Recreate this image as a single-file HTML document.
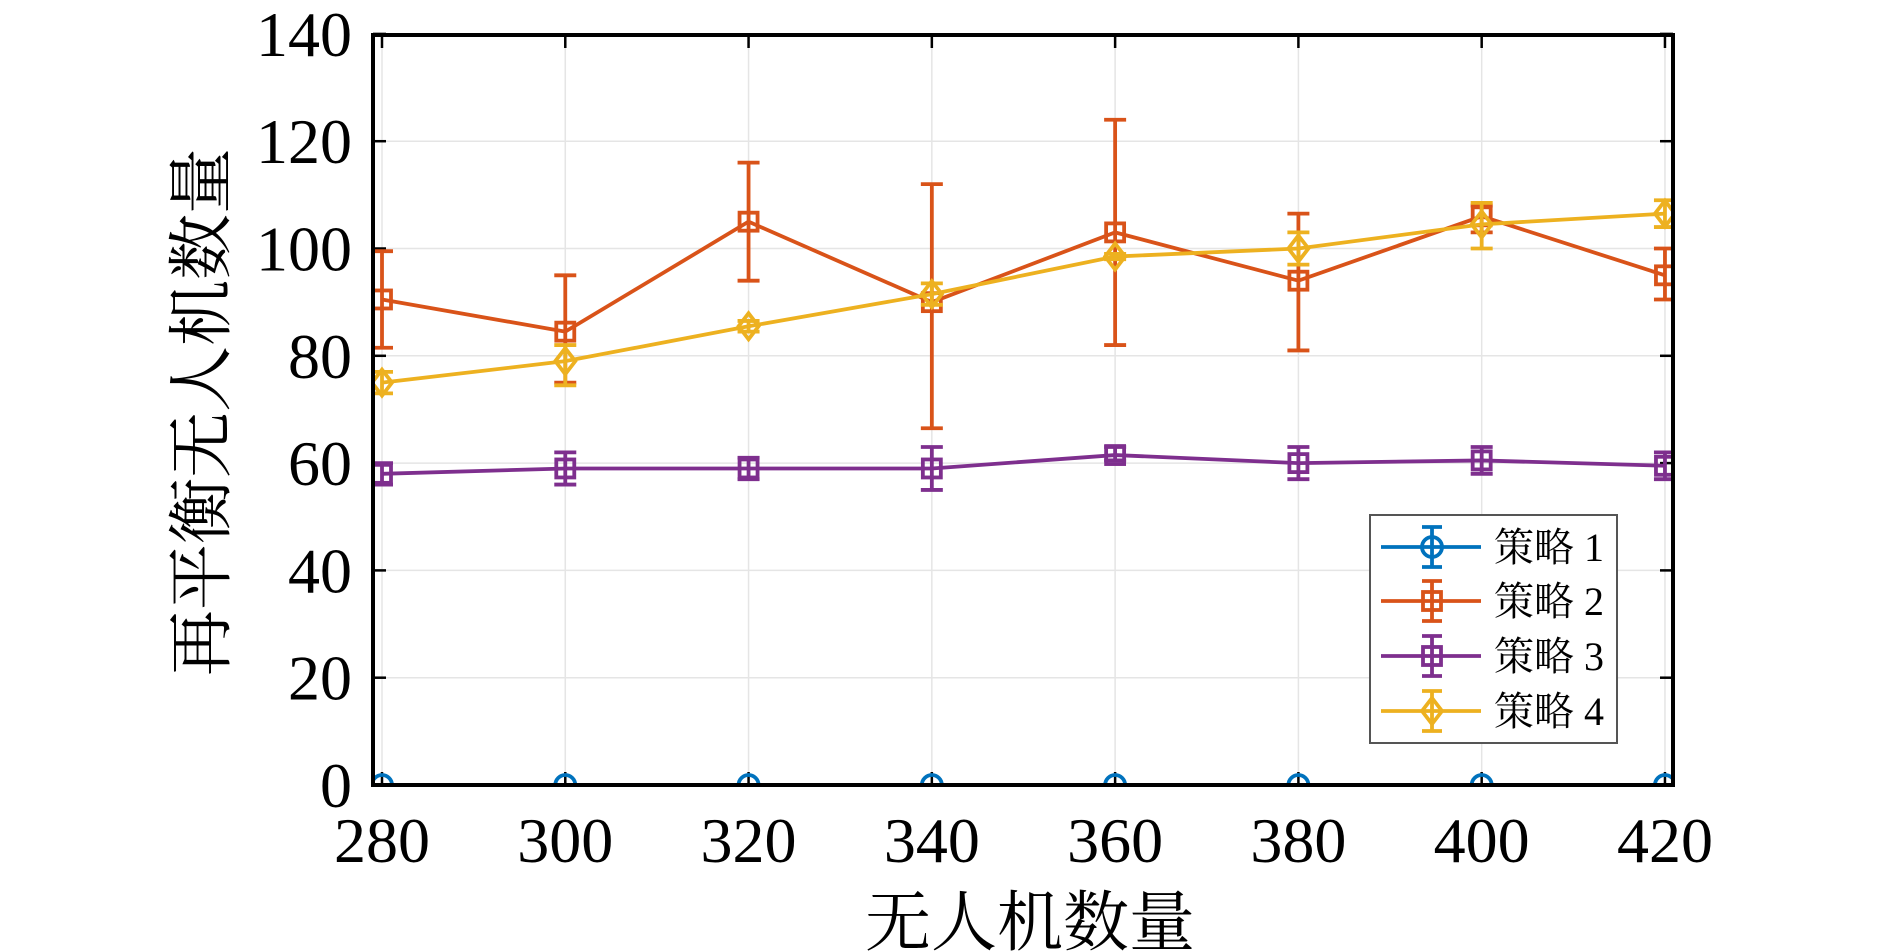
<!DOCTYPE html>
<html><head><meta charset="utf-8"><style>
html,body{margin:0;padding:0;background:#fff;}
svg{display:block;}
text{font-family:"Liberation Serif","Noto Serif CJK SC",serif;fill:#000;}
</style></head><body>
<svg id="s" width="1890" height="951" viewBox="0 0 1890 951" xmlns="http://www.w3.org/2000/svg"></svg>
<script>
const s=document.getElementById('s');
const X=v=>382+(v-280)*9.164, Y=v=>785-v*5.365;
let h='';
const L=373,R=1673,T=35,B=785;
for(let v=280;v<=420;v+=20){h+=`<line x1="${X(v)}" y1="${T}" x2="${X(v)}" y2="${B}" stroke="#e5e5e5" stroke-width="1.5"/>`;}
for(let v=0;v<=140;v+=20){h+=`<line x1="${L}" y1="${Y(v)}" x2="${R}" y2="${Y(v)}" stroke="#e5e5e5" stroke-width="1.5"/>`;}
for(let v=280;v<=420;v+=20){h+=`<line x1="${X(v)}" y1="${B}" x2="${X(v)}" y2="${B-13}" stroke="#000" stroke-width="2.5"/><line x1="${X(v)}" y1="${T}" x2="${X(v)}" y2="${T+13}" stroke="#000" stroke-width="2.5"/>`;
h+=`<text x="${X(v)}" y="862" font-size="64" text-anchor="middle">${v}</text>`;}
for(let v=0;v<=140;v+=20){h+=`<line x1="${L}" y1="${Y(v)}" x2="${L+13}" y2="${Y(v)}" stroke="#000" stroke-width="2.5"/><line x1="${R}" y1="${Y(v)}" x2="${R-13}" y2="${Y(v)}" stroke="#000" stroke-width="2.5"/>`;
h+=`<text x="352" y="${Y(v)+22}" font-size="64" text-anchor="end">${v}</text>`;}
const xs=[280,300,320,340,360,380,400,420];
const series=[
 {c:'#0072BD',m:'o',d:xs.map(()=>[0,0,0])},
 {c:'#D95319',m:'s',d:[[90.5,81.5,99.5],[84.5,75,95],[105,94,116],[90,66.5,112],[103,82,124],[94,81,106.5],[106,103,108],[95,90.5,100]]},
 {c:'#7E2F8E',m:'s',d:[[58,56,60],[59,56,62],[59,57,61],[59,55,63],[61.5,60.5,63],[60,57,63],[60.5,58,63],[59.5,57,62]]},
 {c:'#EDB120',m:'d',d:[[75,73,77],[79,74.5,82],[85.5,84.5,86.5],[91.5,89.5,93.5],[98.5,98,99],[100,97,103],[104.5,100,108.5],[106.5,104,109]]}
];
function marker(m,x,y,c){
 if(m==='o')return `<circle cx="${x}" cy="${y}" r="10" fill="none" stroke="${c}" stroke-width="3.8"/>`;
 if(m==='s')return `<rect x="${x-9}" y="${y-9}" width="18" height="18" fill="none" stroke="${c}" stroke-width="3.8"/>`;
 return `<polygon points="${x},${y-13} ${x+10},${y} ${x},${y+13} ${x-10},${y}" fill="none" stroke="${c}" stroke-width="3.8"/>`;
}
let g='';
series.forEach(se=>{
 const pts=se.d.map((d,i)=>`${X(xs[i])},${Y(d[0])}`).join(' ');
 g+=`<polyline points="${pts}" fill="none" stroke="${se.c}" stroke-width="3.8"/>`;
 se.d.forEach((d,i)=>{const x=X(xs[i]);
  g+=`<line x1="${x}" y1="${Y(d[1])}" x2="${x}" y2="${Y(d[2])}" stroke="${se.c}" stroke-width="3.8"/>`;
  g+=`<line x1="${x-11}" y1="${Y(d[1])}" x2="${x+11}" y2="${Y(d[1])}" stroke="${se.c}" stroke-width="3.8"/>`;
  g+=`<line x1="${x-11}" y1="${Y(d[2])}" x2="${x+11}" y2="${Y(d[2])}" stroke="${se.c}" stroke-width="3.8"/>`;
  g+=marker(se.m,x,Y(d[0]),se.c);});
});
h+=`<defs><clipPath id="cp"><rect x="${L}" y="${T}" width="${R-L}" height="${B-T}"/></clipPath></defs><g clip-path="url(#cp)">`+g+'</g>';
h+=`<rect x="${L}" y="${T}" width="${R-L}" height="${B-T}" fill="none" stroke="#000" stroke-width="4"/>`;
h+=`<rect x="1370" y="515" width="247" height="228" fill="#fff" stroke="#555" stroke-width="2"/>`;
const ly=[547,601,656,711];
series.forEach((se,i)=>{const y=ly[i];
 h+=`<line x1="1381" y1="${y}" x2="1481" y2="${y}" stroke="${se.c}" stroke-width="3.8"/>`;
 h+=`<line x1="1432" y1="${y-20}" x2="1432" y2="${y+20}" stroke="${se.c}" stroke-width="3.8"/><line x1="1422" y1="${y-20}" x2="1442" y2="${y-20}" stroke="${se.c}" stroke-width="3.8"/><line x1="1422" y1="${y+20}" x2="1442" y2="${y+20}" stroke="${se.c}" stroke-width="3.8"/>`;
 h+=marker(se.m,1432,y,se.c);
 h+=`<text x="1494" y="${y+14}" font-size="40">策略 ${i+1}</text>`;
});
h+=`<text x="1030" y="945" font-size="66" text-anchor="middle">无人机数量</text>`;
h+=`<text transform="translate(224,412) rotate(-90)" font-size="66" text-anchor="middle">再平衡无人机数量</text>`;
s.innerHTML=h;
</script>
</body></html>
